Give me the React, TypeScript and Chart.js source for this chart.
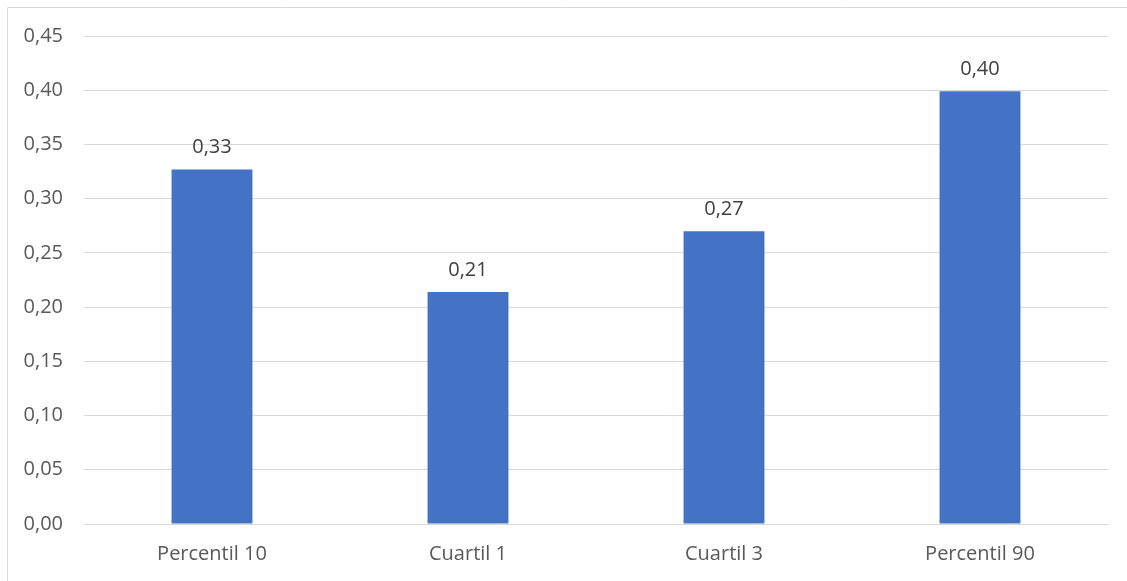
import React, { useEffect, useRef } from "react";
import { Chart, registerables } from "chart.js";

Chart.register(...registerables);

const categories: string[] = ["Percentil 10", "Cuartil 1", "Cuartil 3", "Percentil 90"];
const values: number[] = [0.327, 0.214, 0.27, 0.399];
const yMin = 0;
const yMax = 0.45;
const yStep = 0.05;

const BAR_COLOR = "#4472C4";
const GRID_COLOR = "#d9d9d9";
const AXIS_TEXT = "#595959";
const LABEL_TEXT = "#404040";
const FONT_FAMILY = "'Open Sans', 'Noto Sans', sans-serif";

const fmt = (v: number) => v.toFixed(2).replace(".", ",");

// Outer frame line around the chart object
const framePlugin = {
  id: "frame",
  beforeDraw(chart: any) {
    const { ctx, width, height } = chart;
    ctx.save();
    ctx.strokeStyle = GRID_COLOR;
    ctx.lineWidth = 1;
    ctx.beginPath();
    ctx.moveTo(7.5, height);
    ctx.lineTo(7.5, 7.5);
    ctx.lineTo(width, 7.5);
    ctx.stroke();
    ctx.restore();
  },
};

// Value labels drawn above each bar
const valueLabelPlugin = {
  id: "valueLabels",
  afterDatasetsDraw(chart: any) {
    const { ctx } = chart;
    const meta = chart.getDatasetMeta(0);
    ctx.save();
    ctx.font = `20px ${FONT_FAMILY}`;
    ctx.fillStyle = LABEL_TEXT;
    ctx.textAlign = "center";
    ctx.textBaseline = "alphabetic";
    meta.data.forEach((bar: any, i: number) => {
      const v = chart.data.datasets[0].data[i] as number;
      ctx.fillText(fmt(v), bar.x, bar.y - 16);
    });
    ctx.restore();
  },
};

export default function App() {
  const canvasRef = useRef<HTMLCanvasElement | null>(null);

  useEffect(() => {
    if (!canvasRef.current) return;
    const chart = new Chart(canvasRef.current, {
      type: "bar",
      data: {
        labels: categories,
        datasets: [
          {
            data: values,
            backgroundColor: BAR_COLOR,
            borderWidth: 0,
            categoryPercentage: 1,
            barPercentage: 0.316,
          },
        ],
      },
      options: {
        responsive: false,
        animation: false,
        layout: { padding: { top: 36, right: 19, bottom: 0, left: 0 } },
        plugins: {
          legend: { display: false },
          tooltip: { enabled: false },
        },
        scales: {
          x: {
            grid: { display: false },
            border: { display: true, color: GRID_COLOR },
            ticks: {
              color: AXIS_TEXT,
              font: { family: FONT_FAMILY, size: 20 },
              padding: 10,
              maxRotation: 0,
            },
            afterFit(scale: any) {
              scale.height = 57;
            },
          },
          y: {
            min: yMin,
            max: yMax,
            grid: { color: GRID_COLOR, drawTicks: false },
            border: { display: false },
            ticks: {
              stepSize: yStep,
              color: AXIS_TEXT,
              font: { family: FONT_FAMILY, size: 20 },
              padding: 21,
              callback: (v: any) => fmt(Number(v)),
            },
            afterFit(scale: any) {
              scale.width = 84;
            },
          },
        },
      },
      plugins: [framePlugin, valueLabelPlugin],
    });
    return () => chart.destroy();
  }, []);

  return (
    <div style={{ position: "absolute", left: 0, top: 0, width: 1127, height: 581, background: "#fff" }}>
      <canvas ref={canvasRef} width={1127} height={581} />
    </div>
  );
}
